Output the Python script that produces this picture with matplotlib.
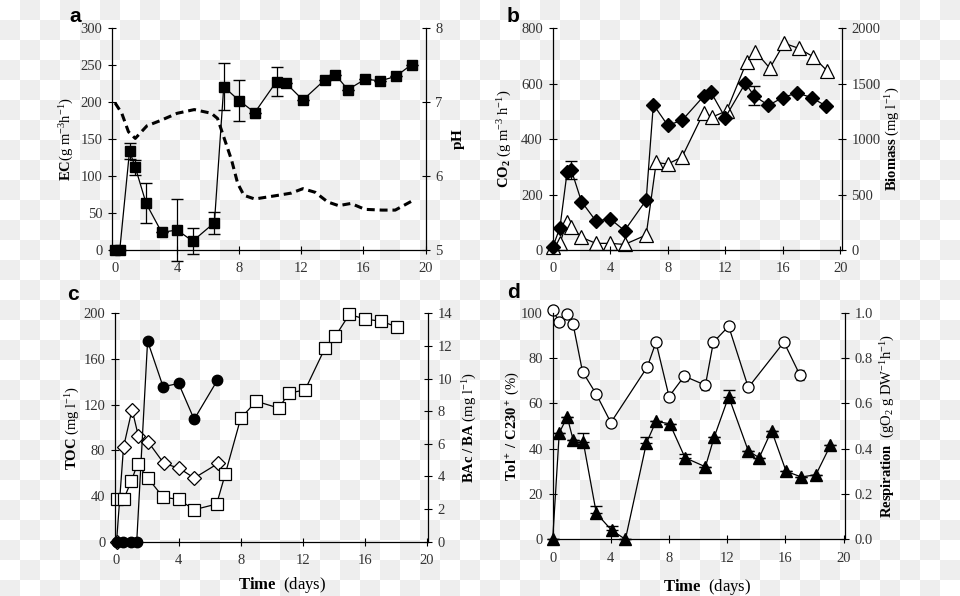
import numpy as np
import matplotlib
matplotlib.use("Agg")
import matplotlib.pyplot as plt

plt.rcParams['font.family'] = ['Liberation Serif', 'DejaVu Serif']
plt.rcParams['mathtext.fontset'] = 'custom'
plt.rcParams['mathtext.rm'] = 'Liberation Serif'
plt.rcParams['mathtext.bf'] = 'Liberation Serif:bold'
plt.rcParams['mathtext.it'] = 'Liberation Serif:italic'

# ---- panel a: elimination capacity and pH
a_day = [0, 0.3, 0.93, 1.3, 2.0, 3.0, 4.0, 5.0, 6.4, 7.0, 8.0, 9.0, 10.4, 11.0,
         12.1, 13.5, 14.2, 15.0, 16.1, 17.1, 18.1, 19.1]
a_ec = [0, 0, 134, 112, 63, 24, 27, 12, 37, 221, 202, 186, 228, 226,
        203, 230, 237, 217, 231, 229, 235, 251]
a_ec_err = [0, 0, 11, 10, 27, 0, 42, 18, 15, 32, 28, 0, 20, 0,
            0, 0, 0, 0, 0, 0, 0, 0]
ph_day = [0, 0.43, 0.86, 1.3, 2.05, 2.9, 4.0, 5.1, 6.2, 6.6, 7.0, 7.5, 7.9, 8.3,
          9.0, 10.5, 11.35, 12.1, 12.9, 13.7, 14.4, 15.2, 16.1, 17.2, 18.05, 19.1]
ph_val = [6.99, 6.85, 6.60, 6.51, 6.68, 6.75, 6.85, 6.90, 6.85, 6.78, 6.53, 6.22, 5.90, 5.74,
          5.69, 5.74, 5.77, 5.83, 5.78, 5.65, 5.60, 5.63, 5.55, 5.54, 5.54, 5.66]

# ---- panel b: CO2 production and biomass
co2_day = [0, 0.5, 1.0, 1.3, 2.0, 3.0, 4.0, 5.0, 6.5, 7.0, 8.0, 9.0, 10.5, 11.0,
           12.0, 13.4, 14.0, 15.0, 16.0, 17.0, 18.0, 19.0]
co2_val = [10, 80, 280, 288, 175, 105, 112, 70, 180, 525, 450, 468, 555, 570,
           478, 602, 557, 522, 550, 567, 550, 520]
co2_err = [0, 0, 0, 33, 0, 0, 0, 0, 0, 0, 0, 0, 0, 0,
           0, 0, 35, 0, 0, 0, 0, 0]
bio_day = [0, 0.5, 1.0, 1.3, 2.0, 3.0, 4.0, 5.0, 6.5, 7.2, 8.0, 9.0, 10.5, 11.1,
           12.1, 13.5, 14.1, 15.1, 16.1, 17.1, 18.1, 19.1]
bio_val = [30, 60, 255, 210, 115, 60, 60, 50, 135, 790, 775, 840, 1240, 1200,
           1255, 1700, 1790, 1640, 1865, 1820, 1745, 1615]

# ---- panel c: TOC, BAc and BA
toc_day = [0, 0.45, 0.95, 1.35, 2.0, 3.0, 4.0, 5.0, 6.45, 7.0, 8.0, 9.0, 10.45, 11.1,
           12.15, 13.45, 14.1, 15.0, 16.0, 17.05, 18.1]
toc_val = [37, 37, 53, 68, 56, 39, 37, 28, 33, 59, 108, 123, 117, 130,
           133, 170, 180, 199, 195, 193, 188]
bac_day = [0, 0.45, 1.0, 1.4, 2.05, 3.05, 4.05, 5.0, 6.55]
bac_val = [0, 5.8, 8.1, 6.5, 6.1, 4.8, 4.5, 3.9, 4.8]
ba_day = [0, 0.4, 0.9, 1.3, 2.0, 3.0, 4.0, 5.0, 6.5]
ba_val = [0, 0, 0, 0, 12.3, 9.5, 9.7, 7.5, 9.9]

# ---- panel d: Tol+/C230+ and respiration
tol_day = [0, 0.45, 1.0, 1.4, 2.05, 3.0, 4.0, 6.5, 7.1, 8.0, 9.05, 10.5, 11.05,
           12.1, 13.45, 15.9, 17.0]
tol_val = [101, 96, 99.5, 95, 74, 64, 51.5, 76, 87, 63, 72, 68, 87,
           94, 67, 87, 72.5]
tol_err = [0, 0, 0, 0, 0, 0, 0, 0, 0, 0, 2, 2, 2,
           0, 0, 0, 2]
resp_day = [0, 0.45, 1.0, 1.4, 2.1, 3.0, 4.05, 5.0, 6.45, 7.1, 8.05, 9.1, 10.5,
            11.1, 12.1, 13.45, 14.2, 15.05, 16.05, 17.1, 18.1, 19.1]
resp_val = [0, 0.47, 0.54, 0.44, 0.43, 0.115, 0.04, 0, 0.426, 0.52, 0.51, 0.36, 0.32,
            0.45, 0.63, 0.39, 0.36, 0.48, 0.30, 0.275, 0.285, 0.415]
resp_err = [0, 0, 0, 0, 0.04, 0.03, 0.02, 0, 0.025, 0, 0, 0.015, 0,
            0, 0.03, 0, 0, 0, 0, 0, 0, 0]

W, H = 960, 596
fig = plt.figure(figsize=(W / 100, H / 100), dpi=100)

# transparent-look checkerboard behind everything
yy, xx = np.mgrid[0:H, 0:W]
board = np.where(((xx // 20) + (yy // 20)) % 2 == 1, 0.93, 1.0)
fig.figimage(board, cmap='gray', vmin=0, vmax=1, zorder=0)


def make_axes(left, right, top, bottom):
    ax = fig.add_axes([left / W, (H - bottom) / H, (right - left) / W, (bottom - top) / H])
    ax2 = ax.twinx()
    for a in (ax, ax2):
        a.set_facecolor('none')
        a.spines['top'].set_visible(False)
        for s in ('left', 'right', 'bottom'):
            a.spines[s].set_linewidth(0.9)
        a.tick_params(direction='inout', length=6, width=0.8, labelsize=10.5,
                      labelcolor='#333333')
        a.tick_params(axis='x', pad=6)
        a.tick_params(axis='y', pad=4)
    ax.spines['right'].set_visible(False)
    ax2.spines['left'].set_visible(False)
    ax2.spines['bottom'].set_visible(False)
    ax.set_zorder(2)
    ax2.set_zorder(1)
    return ax, ax2


line_kw = dict(color='black', lw=0.9, clip_on=False)

# ---- a
ax, ax2 = make_axes(112, 425.5, 28.3, 250)
ax2.plot(ph_day, ph_val, color='black', lw=2.2, linestyle=(0, (2.6, 1.6)), clip_on=False)
ax.errorbar(a_day, a_ec, yerr=a_ec_err, fmt='-s', color='black', ms=7.5, lw=0.9,
            elinewidth=0.9, capsize=4, clip_on=False)
ax.set_xlim(-0.2, 20)
ax.set_ylim(0, 300)
ax.set_yticks(range(0, 301, 50))
ax.set_xticks(range(0, 21, 4))
ax2.set_ylim(5, 8)
ax2.set_yticks([5, 6, 7, 8])
ax.set_ylabel(r"$\mathbf{EC}$(g m$^{-3}$h$^{-1}$)", fontsize=10.5, va='center')
ax.yaxis.set_label_coords(-0.1435, 0.5)
ax2.set_ylabel(r"$\mathbf{pH}$", fontsize=11, va='center', rotation=90)
ax2.yaxis.set_label_coords(1.104, 0.5)

# ---- b
ax, ax2 = make_axes(552.7, 841.7, 28.3, 250)
ax.errorbar(co2_day, co2_val, yerr=co2_err, fmt='-D', color='black', ms=7, lw=0.9,
            elinewidth=0.9, capsize=4, clip_on=False)
ax2.plot(bio_day, bio_val, '-^', mfc='white', mec='black', ms=10, mew=0.9, **line_kw)
ax.set_xlim(0, 20.1)
ax.set_ylim(0, 800)
ax.set_yticks(range(0, 801, 200))
ax.set_xticks(range(0, 21, 4))
ax2.set_ylim(0, 2000)
ax2.set_yticks(range(0, 2001, 500))
ax.set_ylabel(r"$\mathbf{CO_2}$ (g m$^{-3}$ h$^{-1}$)", fontsize=10.5, va='center')
ax.yaxis.set_label_coords(-0.165, 0.5)
ax2.set_ylabel(r"$\mathbf{Biomass}$ (mg l$^{-1}$)", fontsize=10.5, va='center', rotation=90)
ax2.yaxis.set_label_coords(1.1775, 0.5)

# ---- c
ax, ax2 = make_axes(115, 427.7, 313.3, 541.7)
ax.plot(toc_day, toc_val, '-s', mfc='white', mec='black', ms=8, mew=0.9, **line_kw)
ax2.plot(bac_day, bac_val, '-D', mfc='white', mec='black', ms=7, mew=0.9, **line_kw)
ax2.plot(ba_day, ba_val, '-o', mfc='black', mec='black', ms=7.5, **line_kw)
ax.set_xlim(-0.1, 20.05)
ax.set_ylim(0, 200)
ax.set_yticks(range(0, 201, 40))
ax.set_xticks(range(0, 21, 4))
ax2.set_ylim(0, 14)
ax2.set_yticks(range(0, 15, 2))
ax.set_ylabel(r"$\mathbf{TOC}$ (mg l$^{-1}$)", fontsize=10.5, va='center')
ax.yaxis.set_label_coords(-0.134, 0.5)
ax2.set_ylabel(r"$\mathbf{BAc\ /\ BA}$ (mg l$^{-1}$)", fontsize=10.5, va='center', rotation=90)
ax2.yaxis.set_label_coords(1.135, 0.5)
ax.set_xlabel(r"$\mathbf{Time}$  (days)", fontsize=12, va='center')
ax.xaxis.set_label_coords(0.533, -0.19)

# ---- d
ax, ax2 = make_axes(552.7, 845, 312.7, 539.3)
ax.errorbar(tol_day, tol_val, yerr=tol_err, fmt='-o', color='black', mfc='white', mec='black',
            ms=8, mew=0.9, lw=0.9, elinewidth=0.9, capsize=3, clip_on=False)
ax2.errorbar(resp_day, resp_val, yerr=[np.zeros(len(resp_err)), resp_err], fmt='-^',
             color='black', ms=9, lw=0.9, elinewidth=0.9, capsize=4, clip_on=False)
ax.set_xlim(0, 20.1)
ax.set_ylim(0, 100)
ax.set_yticks(range(0, 101, 20))
ax.set_xticks(range(0, 21, 4))
ax2.set_ylim(0, 1.0)
ax2.set_yticks(np.arange(0, 1.01, 0.2))
ax2.set_yticklabels([f"{v:.1f}" for v in np.arange(0, 1.01, 0.2)])
ax.set_ylabel(r"$\mathbf{Tol^+\ /\ C230^+}$ (%)", fontsize=10.5, va='center')
ax.yaxis.set_label_coords(-0.139, 0.5)
ax2.set_ylabel(r"$\mathbf{Respiration}$  (gO$_2$ g DW$^{-1}$h$^{-1}$)", fontsize=10.5,
               va='center', rotation=90)
ax2.yaxis.set_label_coords(1.147, 0.5)
ax.set_xlabel(r"$\mathbf{Time}$  (days)", fontsize=12, va='center')
ax.xaxis.set_label_coords(0.527, -0.209)

for letter, px, py in [('a', 75, 17), ('b', 513, 17), ('c', 73, 295), ('d', 513, 293)]:
    fig.text(px / W, 1 - py / H, letter, fontsize=15, fontweight='bold',
             family='Liberation Sans', ha='center', va='center')

fig.savefig('out.png', dpi=100)
